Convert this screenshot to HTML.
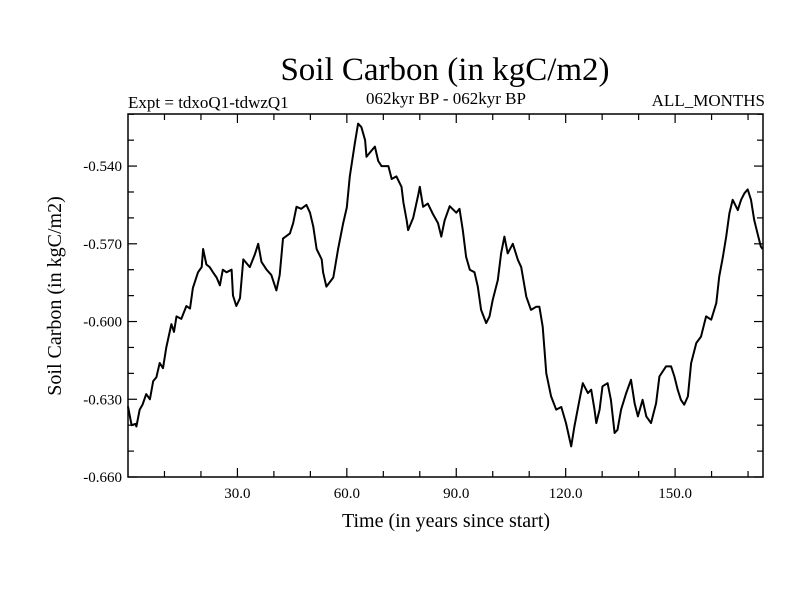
<!DOCTYPE html>
<html><head><meta charset="utf-8"><style>
html,body{margin:0;padding:0;background:#fff;}
svg text{font-family:"Liberation Serif",serif;fill:#000;}
</style></head><body>
<svg id="chart" width="800" height="600" viewBox="0 0 800 600" xmlns="http://www.w3.org/2000/svg">
<rect width="800" height="600" fill="#fff"/>
<text x="445" y="80" font-size="33" text-anchor="middle">Soil Carbon (in kgC/m2)</text>
<text x="128" y="108" font-size="17">Expt = tdxoQ1-tdwzQ1</text>
<text x="446" y="104" font-size="17" text-anchor="middle">062kyr BP - 062kyr BP</text>
<text x="765" y="106" font-size="17" text-anchor="end">ALL_MONTHS</text>
<text transform="translate(61,296) rotate(-90)" font-size="20" text-anchor="middle">Soil Carbon (in kgC/m2)</text>
<text x="446" y="527" font-size="20" text-anchor="middle">Time (in years since start)</text>
<g id="ticks"></g>
<path id="series" fill="none" stroke="#000" stroke-width="2" stroke-linejoin="round"/>
<rect x="128" y="114" width="635" height="363" fill="none" stroke="#000" stroke-width="1.5"/>
</svg>
<script>
const years = [0,1,2,2.3,3.2,4,5,6,6.9,7.8,8.7,9.6,10.5,11.9,12.6,13.3,14.6,16,17,17.8,19.2,20.2,20.6,21.5,22.4,23.3,24.3,25.2,26,27,28.4,28.8,29.7,30.7,31.6,33.4,34.8,35.7,36.6,38,39.3,40.7,41.6,42.5,44.4,45.3,46.2,47.5,48.9,49.9,50.8,51.7,53.1,53.5,54.4,56.3,57.6,59,60,60.8,62.2,63.1,64,65,65.4,66.8,67.7,68.6,69.5,71.4,72.3,73.6,75,75.5,76.4,76.8,78.2,79.6,80,80.9,82.2,83.6,85,85.9,86.8,88.2,90,90.9,91.8,92.7,93.7,95,95.9,96.8,98.2,99.1,100,101.4,102.3,103.2,104.1,105.5,106.9,107.8,109.2,110.5,111.9,112.8,113.7,114.2,114.7,116,117.4,118.8,120.1,121.5,122.4,123.8,124.7,126.1,127,127.9,128.4,129.3,130.1,131.5,132.4,133.4,134.2,135.2,136.6,137.9,138.9,139.8,141.1,142.1,143.4,144.8,145.7,147.5,148.9,149.8,150.7,151.6,152.5,153.5,154.4,155.8,157.1,158.5,159.9,161.3,162.1,163.1,164,164.9,165.8,167.2,168.1,169,169.9,170.8,171.7,172.6,173.5,174];
const values = [-0.6328,-0.6400,-0.6395,-0.6405,-0.6340,-0.6320,-0.6280,-0.6300,-0.6230,-0.6215,-0.6160,-0.6180,-0.6100,-0.6010,-0.6040,-0.5980,-0.5990,-0.5940,-0.5950,-0.5870,-0.5810,-0.5790,-0.5720,-0.5780,-0.5790,-0.5810,-0.5830,-0.5860,-0.5800,-0.5810,-0.5800,-0.5900,-0.5940,-0.5910,-0.5760,-0.5790,-0.5740,-0.5700,-0.5770,-0.5800,-0.5820,-0.5880,-0.5820,-0.5680,-0.5660,-0.5620,-0.5557,-0.5565,-0.5550,-0.5580,-0.5634,-0.5720,-0.5760,-0.5810,-0.5865,-0.5830,-0.5720,-0.5620,-0.5560,-0.5440,-0.5310,-0.5236,-0.5250,-0.5300,-0.5364,-0.5340,-0.5325,-0.5380,-0.5400,-0.5400,-0.5450,-0.5440,-0.5480,-0.5540,-0.5610,-0.5647,-0.5600,-0.5510,-0.5480,-0.5557,-0.5545,-0.5585,-0.5620,-0.5672,-0.5610,-0.5555,-0.5580,-0.5565,-0.5647,-0.5750,-0.5800,-0.5810,-0.5865,-0.5955,-0.6006,-0.5980,-0.5917,-0.5840,-0.5737,-0.5672,-0.5737,-0.5700,-0.5762,-0.5790,-0.5904,-0.5955,-0.5943,-0.5943,-0.6020,-0.6110,-0.6200,-0.6289,-0.6340,-0.6330,-0.6392,-0.6482,-0.6405,-0.6302,-0.6238,-0.6276,-0.6263,-0.6340,-0.6392,-0.6340,-0.6250,-0.6238,-0.6302,-0.6430,-0.6418,-0.6340,-0.6276,-0.6225,-0.6315,-0.6366,-0.6302,-0.6366,-0.6392,-0.6315,-0.6212,-0.6173,-0.6173,-0.6212,-0.6263,-0.6302,-0.6321,-0.6289,-0.6161,-0.6083,-0.6058,-0.5980,-0.5993,-0.5929,-0.5827,-0.5750,-0.5672,-0.5582,-0.5530,-0.5570,-0.5530,-0.5505,-0.5490,-0.5530,-0.5608,-0.5660,-0.5710,-0.5720];
const yTickValues = [-0.660,-0.630,-0.600,-0.570,-0.540];
const yTickLabels = ["-0.660","-0.630","-0.600","-0.570","-0.540"];
const xTickValues = [30,60,90,120,150];
const xTickLabels = ["30.0","60.0","90.0","120.0","150.0"];

const L=128,R=763,T=114,B=477,X0=0,X1=174.1,Y0=-0.660,Y1=-0.5199;
function sx(v){return L+(v-X0)/(X1-X0)*(R-L);}
function sy(v){return B-(v-Y0)/(Y1-Y0)*(B-T);}
const NS="http://www.w3.org/2000/svg";
const g=document.getElementById('ticks');
function line(x1,y1,x2,y2,name){const l=document.createElementNS(NS,'line');
l.setAttribute('x1',x1);l.setAttribute('y1',y1);l.setAttribute('x2',x2);l.setAttribute('y2',y2);
l.setAttribute('stroke','#000');l.setAttribute('stroke-width','1.2');


g.appendChild(l);}
function txt(x,y,s,anchor,name){const t=document.createElementNS(NS,'text');
t.setAttribute('x',x);t.setAttribute('y',y);t.setAttribute('font-size','15');t.setAttribute('text-anchor',anchor);t.textContent=s;


g.appendChild(t);}
for(let v=10;v<X1;v+=10){const x=sx(v);const major=(v%30===0);const len=major?9:6;
line(x,B,x,B-len,'x-tick');line(x,T,x,T+len,'x-tick-top');}
for(let k=0;k<=14;k++){const v=Y0+k*0.01;if(v>Y1)break;const y=sy(v);const major=(k%3===0);const len=major?9:6;
line(L,y,L+len,y,'y-tick');line(R,y,R-len,y,'y-tick-right');}
xTickValues.forEach((v,i)=>txt(sx(v),B+21,xTickLabels[i],'middle','x-tick-label'));
yTickValues.forEach((v,i)=>txt(L-6,sy(v)+5,yTickLabels[i],'end','y-tick-label'));
let d='';years.forEach((yr,i)=>{d+=(i?'L':'M')+sx(Math.min(yr,X1)).toFixed(1)+','+sy(values[i]).toFixed(1);});
document.getElementById('series').setAttribute('d',d);
</script>
</body></html>
